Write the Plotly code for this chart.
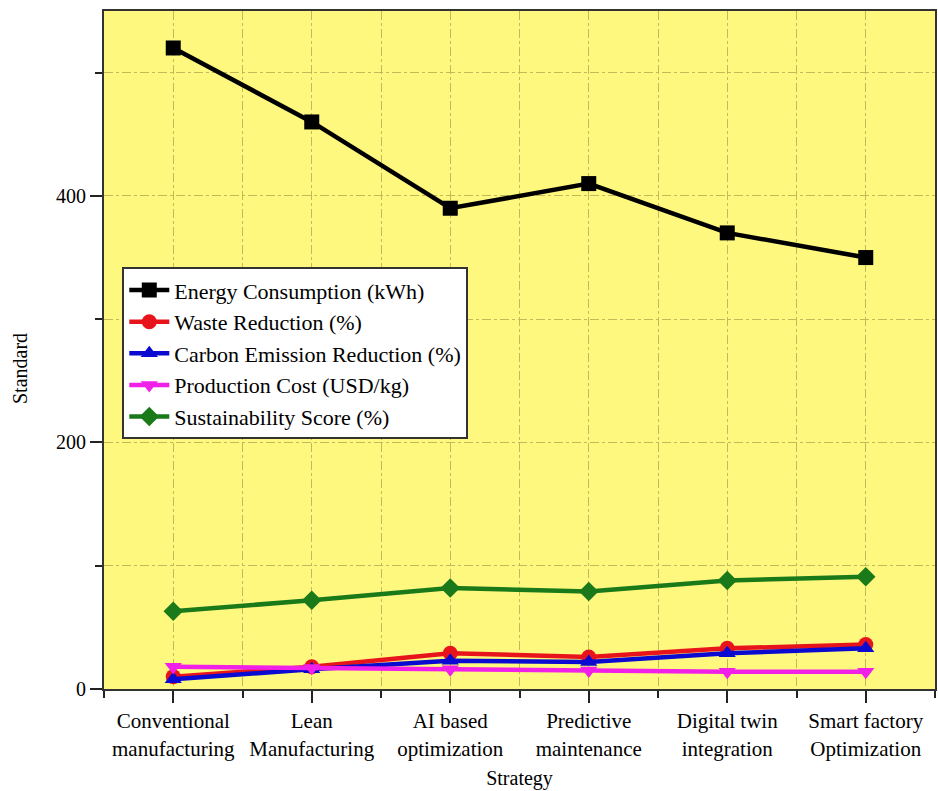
import plotly.graph_objects as go

categories = ["Conventional<br>manufacturing", "Lean<br>Manufacturing", "AI based<br>optimization",
              "Predictive<br>maintenance", "Digital twin<br>integration", "Smart factory<br>Optimization"]
energy = [520, 460, 390, 410, 370, 350]
waste = [10, 18, 29, 26, 33, 36]
carbon = [8, 16, 23, 22, 29, 33]
cost = [18, 17, 16, 15, 14, 14]
sustain = [63, 72, 82, 79, 88, 91]

series = [
    ("Energy Consumption (kWh)", energy, "#000000", "square"),
    ("Waste Reduction (%)", waste, "#e8141c", "circle"),
    ("Carbon Emission Reduction (%)", carbon, "#0a0ad0", "triangle-up"),
    ("Production Cost (USD/kg)", cost, "#f020e8", "triangle-down"),
    ("Sustainability Score (%)", sustain, "#1a7a1a", "diamond"),
]

xs = list(range(len(categories)))
FONT = "Liberation Serif, Times New Roman, serif"

fig = go.Figure()
for name, vals, color, sym in series:
    fig.add_trace(go.Scatter(
        x=xs, y=vals, name=name, mode="lines+markers",
        line=dict(color=color, width=4.5),
        marker=dict(symbol=sym, size=15, color=color),
        cliponaxis=False,
    ))

grid_color = "#c4b85a"
fig.update_layout(
    width=938, height=791,
    margin=dict(l=104, r=3, t=11, b=102, autoexpand=False),
    paper_bgcolor="white",
    plot_bgcolor="#fff87e",
    font=dict(family=FONT, size=20, color="black"),
    showlegend=True,
    legend=dict(
        x=0.022, y=0.622, xanchor="left", yanchor="top",
        bgcolor="white", bordercolor="#333333", borderwidth=2,
        font=dict(family=FONT, size=22, color="black"),
        itemwidth=40, tracegroupgap=0,
    ),
    xaxis=dict(
        range=[-0.5, 5.5], automargin=False,
        tickvals=xs, ticktext=categories,
        ticks="outside", ticklen=12, tickwidth=2, tickcolor="#222",
        showline=True, linecolor="#333", linewidth=2, mirror=True,
        showgrid=True, gridcolor=grid_color, griddash="dashdot", gridwidth=1,
        zeroline=False,
        minor=dict(dtick=0.5, tick0=0.5, ticks="outside", ticklen=7, tickwidth=2,
                   tickcolor="#222", showgrid=True, gridcolor=grid_color,
                   griddash="dashdot", gridwidth=1),
        tickfont=dict(family=FONT, size=21),
        title=dict(text="Strategy", font=dict(family=FONT, size=20), standoff=11),
    ),
    yaxis=dict(
        range=[0, 550], automargin=False,
        tick0=0, dtick=200,
        ticks="outside", ticklen=12, tickwidth=2, tickcolor="#222",
        showline=True, linecolor="#333", linewidth=2, mirror=True,
        showgrid=True, gridcolor=grid_color, griddash="dashdot", gridwidth=1,
        zeroline=False,
        minor=dict(dtick=100, tick0=0, ticks="outside", ticklen=7, tickwidth=2,
                   tickcolor="#222", showgrid=True, gridcolor=grid_color,
                   griddash="dashdot", gridwidth=1),
        tickfont=dict(family=FONT, size=20),
    ),
    annotations=[dict(
        text="Standard", textangle=-90, xref="paper", yref="paper",
        x=-0.101, y=0.472, xanchor="center", yanchor="middle", showarrow=False,
        font=dict(family=FONT, size=20),
    )],
)

fig.write_html("out.html", config={"displayModeBar": False},
               post_script="document.body.style.margin='0';")
